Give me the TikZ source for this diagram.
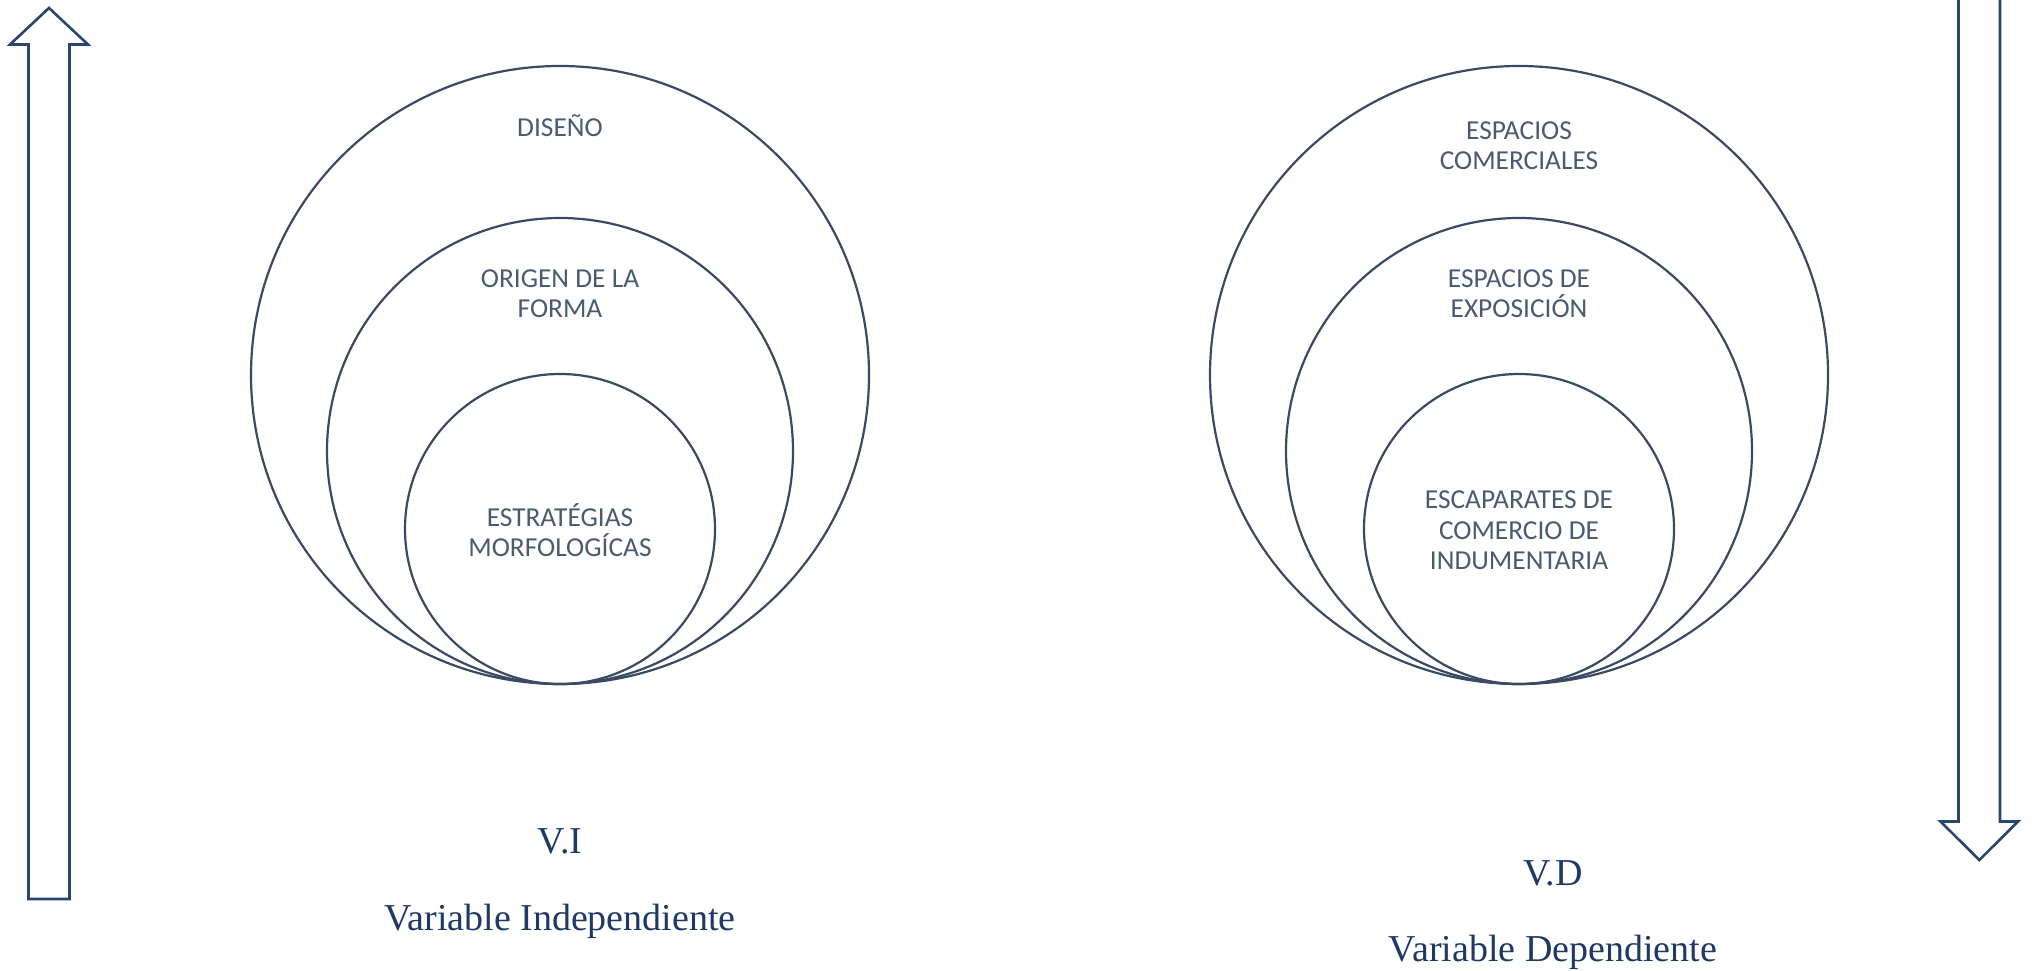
\documentclass[tikz,border=0pt]{standalone}
\usepackage{fontspec}
\setmainfont{Liberation Serif}
\newfontfamily\labelfont{Carlito}
\definecolor{ringcol}{HTML}{3A4A62}
\definecolor{ringtext}{HTML}{4A5A70}
\definecolor{arrowcol}{HTML}{2C4470}
\definecolor{varcol}{HTML}{1F3864}
\tikzset{
  ring/.style={circle, draw=ringcol, line width=2.2pt, inner sep=0pt, minimum size=#1},
  ringlabel/.style={text=ringtext, align=center, inner sep=0pt,
    font=\labelfont\fontsize{27.4}{30.3}\selectfont},
  varlabel/.style={text=varcol, inner sep=0pt, anchor=base,
    font=\fontsize{38}{44}\selectfont},
  bigarrow/.style={draw=arrowcol, line width=2.6pt, fill=white, line join=miter}
}
\begin{document}
\begin{tikzpicture}[x=1pt, y=-1pt]
\useasboundingbox (0,0) rectangle (2033,971);

% hollow arrows at the sides
\draw[bigarrow] (28.5,899) -- (28.5,44.5) -- (10,44.5) -- (49,8)
  -- (88,44.5) -- (69.5,44.5) -- (69.5,899) -- cycle;
\draw[bigarrow] (1958.5,-10) -- (1958.5,821.5) -- (1940.5,821.5) -- (1979.3,860)
  -- (2018,821.5) -- (2000,821.5) -- (2000,-10);

% independent variable: nested circles
\node[ring=618pt] (vi1) at (560,375) {};
\node[ring=466pt] (vi2) at (560,451) {};
\node[ring=310pt] (vi3) at (560,529) {};
\node[ringlabel] (vi1t) at (560,125.5) {DISEÑO};
\node[ringlabel] (vi2t) at (560,293.5) {ORIGEN DE LA\\FORMA};
\node[ringlabel] (vi3t) at (560,530) {ESTRATÉGIAS\\MORFOLOGÍCAS};

% dependent variable: nested circles
\node[ring=618pt] (vd1) at (1519,375) {};
\node[ring=466pt] (vd2) at (1519,451) {};
\node[ring=310pt] (vd3) at (1519,529) {};
\node[ringlabel] (vd1t) at (1519,145.5) {ESPACIOS\\COMERCIALES};
\node[ringlabel] (vd2t) at (1519,293.5) {ESPACIOS DE\\EXPOSICIÓN};
\node[ringlabel] (vd3t) at (1519,530.5) {ESCAPARATES DE\\COMERCIO DE\\INDUMENTARIA};

% variable captions
\node[varlabel] (vi) at (560,853.3) {V.I};
\node[varlabel] (vin) at (560,930) {Variable Independiente};
\node[varlabel] (vd) at (1553,885) {V.D};
\node[varlabel] (vdn) at (1553,961.7) {Variable Dependiente};
\end{tikzpicture}
\end{document}
